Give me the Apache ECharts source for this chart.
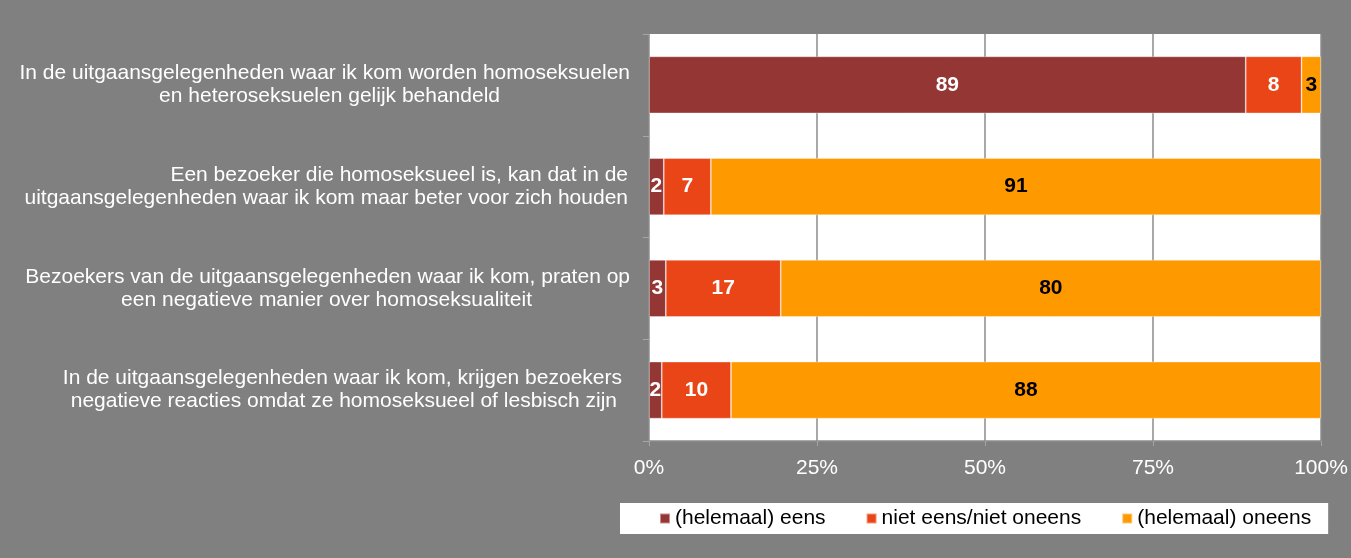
<!DOCTYPE html>
<html><head><meta charset="utf-8">
<script src="https://cdn.jsdelivr.net/npm/echarts@6/dist/echarts.min.js"></script>
<style>html,body{margin:0;padding:0;background:#808080}#c{width:1351px;height:558px}</style>
</head><body><div id="c"></div>
<script>
const categories = [
  'In de uitgaansgelegenheden waar ik kom worden homoseksuelen\nen heteroseksuelen gelijk behandeld',
  'Een bezoeker die homoseksueel is, kan dat in de\nuitgaansgelegenheden waar ik kom maar beter voor zich houden',
  'Bezoekers van de uitgaansgelegenheden waar ik kom, praten op\neen negatieve manier over homoseksualiteit',
  'In de uitgaansgelegenheden waar ik kom, krijgen bezoekers\nnegatieve reacties omdat ze homoseksueel of lesbisch zijn'
];
const seriesNames = ['(helemaal) eens', 'niet eens/niet oneens', '(helemaal) oneens'];
const eens = [88.8, 2.2, 2.5, 1.9];
const neutraal = [8.3, 7.0, 17.1, 10.3];
const oneens = [2.9, 90.8, 80.4, 87.8];
const xMin = 0, xMax = 100, xStep = 25;

// styling only (per-line right offsets of the category labels)
const lineShift = [[0, 130], [2, 2], [0, 98], [8, 13]];
const FONT = '"Liberation Sans", Arial, sans-serif';
const FS = 21;
const rich = {};
lineShift.forEach((arr, i) => arr.forEach((p, j) => {
  rich['c' + i + 'l' + j] = { color: '#fff', fontSize: FS, fontFamily: FONT, align: 'right', lineHeight: 23, padding: [0, p, 0, 0] };
}));

const colors = ['#943634', '#E94517', '#FF9900'];
const labelColors = ['#fff', '#fff', '#000'];
const dataSets = [eens, neutraal, oneens];

const chart = echarts.init(document.getElementById('c'));
chart.setOption({
  backgroundColor: '#808080',
  animation: false,
  textStyle: { fontFamily: FONT },
  grid: { left: 649, right: 30, top: 34, bottom: 117, show: true, backgroundColor: '#fff', borderWidth: 0 },
  legend: {
    left: 620, top: 503,
    backgroundColor: '#fff',
    padding: [5, 17, 5, 39],
    itemGap: 40,
    itemWidth: 10, itemHeight: 10,
    icon: 'rect',
    textStyle: { color: '#000', fontSize: FS, fontFamily: FONT },
    data: seriesNames
  },
  xAxis: {
    type: 'value', min: xMin, max: xMax, interval: xStep,
    axisLabel: { formatter: '{value}%', color: '#fff', fontSize: FS, fontFamily: FONT, margin: 17 },
    axisLine: { show: true, lineStyle: { color: '#8c8c8c', width: 1.5 } },
    axisTick: { show: true, length: 5, lineStyle: { color: '#a6a6a6', width: 1 } },
    splitLine: { show: true, lineStyle: { color: '#8c8c8c', width: 1.5 } }
  },
  yAxis: {
    type: 'category', inverse: true, data: categories,
    axisLine: { show: false },
    axisTick: { show: true, length: 6, lineStyle: { color: '#a6a6a6' } },
    axisLabel: {
      margin: 19, align: 'right',
      formatter: (v, i) => v.split('\n').map((s, j) => '{c' + i + 'l' + j + '|' + s + '}').join('\n'),
      rich: rich
    }
  },
  series: dataSets.map((d, k) => ({
    name: seriesNames[k], type: 'bar', stack: 'total', barWidth: '56%',
    data: d,
    itemStyle: { color: colors[k], borderColor: 'rgba(255,255,255,0.45)', borderWidth: 0.75 },
    label: {
      show: true, position: 'inside', color: labelColors[k], fontSize: FS, fontWeight: 'bold', fontFamily: FONT,
      formatter: p => Math.round(p.value)
    }
  }))
});
</script></body></html>
